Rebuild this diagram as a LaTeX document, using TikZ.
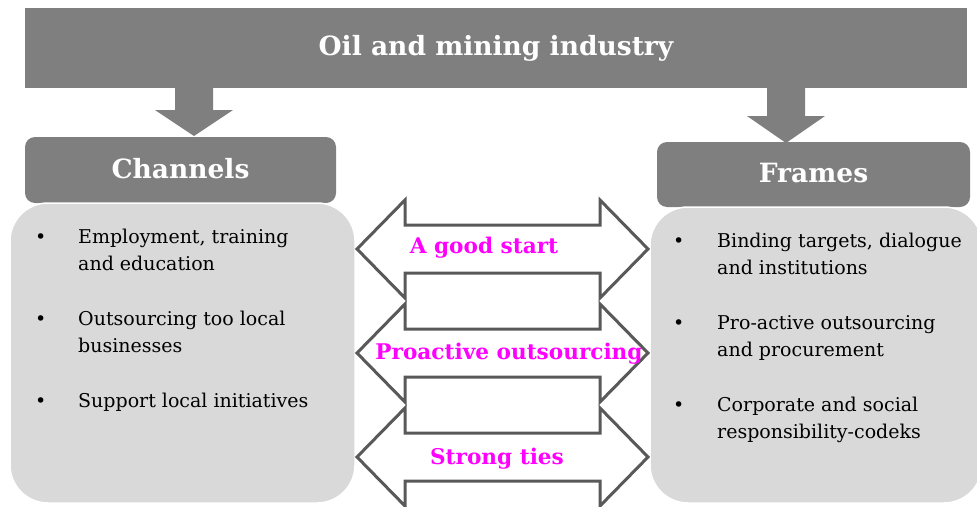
\documentclass[tikz,border=0pt]{standalone}
\usepackage{fontspec}
\setmainfont{DejaVu Serif}
\definecolor{headgray}{HTML}{7F7F7F}
\definecolor{boxgray}{HTML}{D9D9D9}
\definecolor{arrowgray}{HTML}{595959}
\definecolor{linkmag}{HTML}{FF00FF}
\begin{document}
\begin{tikzpicture}[x=1pt,y=-1pt,
  banner/.style={fill=headgray, draw=none, inner sep=0pt, text=white, font=\bfseries\fontsize{26.5}{30}\selectfont},
  darkbox/.style={fill=headgray, draw=none, rounded corners=10pt, inner sep=0pt, text=white, font=\bfseries\fontsize{26.5}{30}\selectfont},
  lightbox/.style={fill=boxgray, draw=white, line width=1.5pt, rounded corners=38pt, inner sep=0pt},
  blockarrow/.style={fill=headgray, draw=none},
  dblarrow/.style={fill=white, draw=arrowgray, line width=3pt, line join=miter},
  itemtext/.style={anchor=base west, align=left, font=\fontsize{19}{27}\selectfont, text=black, inner sep=0pt},
  bullet/.style={anchor=base west, font=\fontsize{19}{27}\selectfont, inner sep=0pt},
  linktext/.style={text=linkmag, inner sep=0pt, font=\bfseries\fontsize{21.6}{25}\selectfont},
  dbl/.pic={\draw[dblarrow] (-145.5,0) -- (-97.5,-49) -- (-97.5,-24) -- (97.5,-24) -- (97.5,-49)
     -- (145.5,0) -- (97.5,49) -- (97.5,24) -- (-97.5,24) -- (-97.5,49) -- cycle;}
]
\useasboundingbox (0,0) rectangle (977,506);

% top banner
\node[banner, minimum width=942pt, minimum height=80pt] (top) at (496,48) {Oil and mining industry};

% down block arrows
\draw[blockarrow] (175,87) -- (213,87) -- (213,110) -- (233,110) -- (194,136) -- (155,110) -- (175,110) -- cycle;
\draw[blockarrow] (767,87) -- (805,87) -- (805,116) -- (825,116) -- (786,143) -- (747,116) -- (767,116) -- cycle;

% header boxes
\node[darkbox, minimum width=311pt, minimum height=66pt] (chan) at (180.5,170) {\raisebox{4pt}{Channels}};
\node[darkbox, minimum width=313pt, minimum height=65pt] (fram) at (813.5,174.5) {\raisebox{3pt}{Frames}};

% light boxes
\node[lightbox, minimum width=345pt, minimum height=300pt] (lbox) at (182.5,353) {};
\node[lightbox, minimum width=332pt, minimum height=296pt] (rbox) at (816,355) {};

% double arrows
\pic at (502.5,249) {dbl};
\pic at (502.5,353) {dbl};
\pic at (502.5,457) {dbl};

\node[linktext] (l1) at (484,248) {A good start};
\node[linktext] (l2) at (509,354) {Proactive outsourcing};
\node[linktext] (l3) at (497,459) {Strong ties};

% left items
\node[bullet] (lb1) at (35,243) {•};
\node[itemtext] (li1) at (78,270) {Employment, training\\and education};
\node[bullet] (lb2) at (35,325) {•};
\node[itemtext] (li2) at (78,352) {Outsourcing too local\\businesses};
\node[bullet] (lb3) at (35,407) {•};
\node[itemtext] (li3) at (78,407) {Support local initiatives};

% right items
\node[bullet] (rb1) at (673,247) {•};
\node[itemtext] (ri1) at (717,274) {Binding targets, dialogue\\and institutions};
\node[bullet] (rb2) at (673,329) {•};
\node[itemtext] (ri2) at (717,356) {Pro-active outsourcing\\and procurement};
\node[bullet] (rb3) at (673,411) {•};
\node[itemtext] (ri3) at (717,438) {Corporate and social\\responsibility-codeks};
\end{tikzpicture}
\end{document}
